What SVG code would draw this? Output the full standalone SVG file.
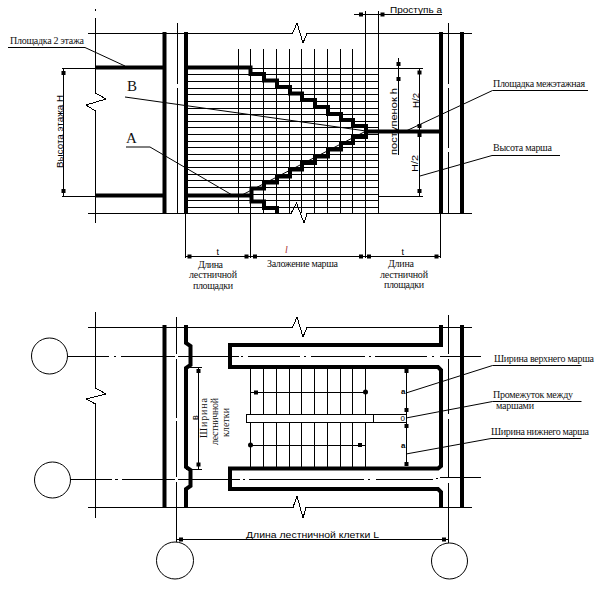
<svg xmlns="http://www.w3.org/2000/svg" width="602" height="593" viewBox="0 0 602 593">
<style>
.l{fill:none;stroke:#000;stroke-width:1;shape-rendering:crispEdges}
.s{fill:none;stroke:#000;stroke-width:1}
.w{fill:none;stroke:#000;stroke-width:4;stroke-linejoin:miter}
.d{fill:#000}
.r{font-family:"Liberation Serif","Times New Roman",serif;font-size:10px;fill:#111}
.g{font-family:"Liberation Sans",Arial,sans-serif;font-size:9px;fill:#000}
.b{font-family:"Liberation Serif","Times New Roman",serif;font-size:15px;fill:#111}
</style>
<defs><rect id="t" x="-2" y="-2" width="4" height="4" class="d"/></defs>
<rect width="602" height="593" fill="#fff"/>
<g id="section">
<path class="l" d="M87.500 33.500H292.500L297 23L303 43L307 33.500H471.500M88 213.500H291L296.500 203L304 223L307 213.500H471.500M95.500 18V93L106 99L86 105L95.500 111V223M95.500 9V11"/>
<path class="l" d="M177.500 23V84M177.500 88V214M448.500 23V84M448.500 88V148M448.500 152V214"/>
<path class="l" d="M188 68.500H378.500M188 74.500H378.500M188 81.500H378.500M188 88.500H378.500M188 94.500H378.500M188 101.500H378.500M188 108.500H378.500M188 114.500H378.500M188 121.500H378.500M188 127.500H378.500M188 134.500H378.500M188 141.500H378.500M188 147.500H378.500M188 154.500H378.500M188 160.500H378.500M188 167.500H378.500M188 174.500H378.500M188 180.500H378.500M188 187.500H378.500M188 194.500H378.500M188 200.500H378.500M188 207.500H378.500"/>
<path class="l" d="M238.500 49V213M250.500 49V258M263.500 49V213M276.500 49V213M289.500 49V213M301.500 49V213M314.500 49V213M327.500 49V213M340.500 49V213M352.500 49V213M365.500 11V258M378.500 11V213"/>
<path class="w" d="M164.500 32V214M186 32V214M441 32V214M462 32V214"/>
<path class="w" d="M96 67.500H164M188 67.500H250.500V74H264V80.500H277V87H290V93.500H302V100H315V107H328V114H341V120H353V126H366V137H353V143H341V149.500H328V156.500H315V163H302V169.500H290V176.500H277V182.500H264V188.500H251.500V201.500H264V208H277V214M96 195.500H164M188 195.500H251.500M366 131.500H441"/>
<path class="s" d="M125 97L366 131M126 147H150L233 195.500H241L366 131M8 47.500H85L125 66M492.500 90.500H588M492.500 90.500L406 131M492 155.500H560M492 155.500L420 176"/>
</g>
<g id="section-dimensions">
<path class="l" d="M354 14.500H442M379 68.500H423M379 196.500H423M419.500 68V197M398.500 58V155M185.500 213V258M440.500 213V258M185 256.500H440.500"/>
<use href="#t" x="361" y="14.500"/><use href="#t" x="382.500" y="14.500"/>
<use href="#t" x="398.500" y="64"/><use href="#t" x="398.500" y="79"/>
<use href="#t" x="419.500" y="72.500"/><use href="#t" x="419.500" y="126"/><use href="#t" x="419.500" y="135"/><use href="#t" x="419.500" y="191"/>
<use href="#t" x="189.500" y="256.500"/><use href="#t" x="246.500" y="256.500"/><use href="#t" x="255" y="256.500"/><use href="#t" x="361" y="256.500"/><use href="#t" x="369" y="256.500"/><use href="#t" x="436.500" y="256.500"/>
</g>
<g id="section-labels">
<text class="r" x="10" y="44" textLength="74" lengthAdjust="spacing">Площадка 2 этажа</text>
<text class="b" x="127" y="91">B</text>
<text class="b" x="126" y="143">A</text>
<text class="g" x="390" y="13" textLength="52" lengthAdjust="spacingAndGlyphs">Проступь  a</text>
<text class="r" x="493" y="87" textLength="92" lengthAdjust="spacing">Площадка межэтажная</text>
<text class="r" x="493" y="151" textLength="59" lengthAdjust="spacing">Высота марша</text>
<text class="g" transform="translate(397 155) rotate(-90)" textLength="67" lengthAdjust="spacingAndGlyphs">поступенок h</text>
<text class="g" transform="translate(418.500 108) rotate(-90)" textLength="15" lengthAdjust="spacingAndGlyphs">H/2</text>
<text class="g" transform="translate(418 172) rotate(-90)" textLength="17" lengthAdjust="spacingAndGlyphs">H/2</text>
<text class="g" transform="translate(62.500 168) rotate(-90)" textLength="73" lengthAdjust="spacingAndGlyphs">Высота этажа H</text>
<text class="g" x="216.500" y="255">t</text>
<text class="r" x="285" y="253" font-style="italic" style="fill:#a33">l</text>
<text class="g" x="401.500" y="255">t</text>
<text class="r" x="198" y="268" textLength="25" lengthAdjust="spacing">Длина</text>
<text class="r" x="189" y="278" textLength="48" lengthAdjust="spacing">лестничной</text>
<text class="r" x="193" y="289" textLength="40" lengthAdjust="spacing">площадки</text>
<text class="r" x="267" y="267" textLength="71" lengthAdjust="spacing">Заложение марша</text>
<text class="r" x="388" y="267" textLength="26" lengthAdjust="spacing">Длина</text>
<text class="r" x="380" y="278" textLength="48" lengthAdjust="spacing">лестничной</text>
<text class="r" x="384" y="288" textLength="40" lengthAdjust="spacing">площадки</text>
</g>
<g id="plan">
<path class="l" d="M87.500 327.500H292.500L297 317L303 337L307 327.500H471.500M88 507.500H293L297 496L303 518L306 507.500H471.500M95.500 312V388L106 394L86 399L95.500 404V518"/>
<path class="l" d="M176.500 317V354M176.500 359V418M176.500 421V477M176.500 482V542M448.500 315V354M448.500 359V414M448.500 419V478M448.500 483V543"/>
<path class="l" d="M68 356.500H109M114 356.500H116M121 356.500H175M178 356.500H239M241 356.500H243M248 356.500H300M304 356.500H306M311 356.500H365M369 356.500H371M375 356.500H427M432 356.500H434M440 356.500H481"/>
<path class="l" d="M70 479.500H112M115 479.500H118M122 479.500H175M178 479.500H240M243 479.500H245M249 479.500H364M368 479.500H370M376 479.500H433M436 478.500H438M440 477.500H481"/>
<path class="l" d="M250.500 368V414M263.500 368V414M276.500 368V414M289.500 368V414M301.500 368V414M314.500 368V414M327.500 368V414M340.500 368V414M352.500 368V414M365.500 368V414M250.500 422V468M263.500 422V468M276.500 422V468M289.500 422V468M301.500 422V468M314.500 422V468M327.500 422V468M340.500 422V468M352.500 422V468M365.500 422V468M250.500 392.500H365.500M250.500 445.500H365.500"/>
<rect class="l" x="246.500" y="414.500" width="160" height="8"/>
<path class="l" d="M373.500 414V422"/>
<path class="w" d="M164.500 325V508M186 325V343L190.500 346V365L186 368V467L190.500 470V486L186 489V508M462 325V508M441 325V345H230V367H438L441 370V466L438 468.500H230V489H438L441 492V508"/>
<g id="plan-leaders"><path class="s" d="M406 393L492.500 365.500M492.500 365.500H581.500M406 418L492.500 401.500M492.500 401.500H581.500M406 454L491 438.500M491 438.500H581.500"/></g>
</g>
<g id="plan-dimensions">
<path class="l" d="M186 367.500H202M186 469.500H202M198.500 367V469M406.500 371V464M176.500 539.500H448"/>
<use href="#t" x="198.500" y="371"/><use href="#t" x="198.500" y="464.500"/>
<use href="#t" x="406.500" y="371"/><use href="#t" x="406.500" y="410"/><use href="#t" x="406.500" y="426"/><use href="#t" x="406.500" y="464"/>
<use href="#t" x="256" y="392.500"/><circle class="d" cx="365.500" cy="392" r="2.500"/><circle class="d" cx="250.500" cy="445" r="2.500"/><use href="#t" x="360" y="445"/>
<use href="#t" x="181" y="539.500"/><use href="#t" x="444" y="539.500"/>
</g>
<g id="plan-labels">
<text class="g" transform="translate(198 420) rotate(-90)">в</text>
<text class="r" transform="translate(207 438) rotate(-90)" textLength="40" lengthAdjust="spacing">Ширина</text>
<text class="r" transform="translate(218 445) rotate(-90)" textLength="47" lengthAdjust="spacing">лестничной</text>
<text class="r" transform="translate(228.500 437) rotate(-90)" textLength="29" lengthAdjust="spacing">клетки</text>
<text class="g" x="401" y="393.500" style="font-size:8px;font-weight:bold">a</text>
<text class="g" x="401" y="447.500" style="font-size:8px;font-weight:bold">a</text>
<text class="g" x="400.500" y="421" style="font-size:8px">0</text>
<text class="g" x="246" y="538" textLength="133" lengthAdjust="spacingAndGlyphs">Длина лестничной клетки L</text>
<text class="r" x="494" y="362" textLength="100" lengthAdjust="spacing">Ширина верхнего марша</text>
<text class="r" x="493" y="398" textLength="80" lengthAdjust="spacing">Промежуток между</text>
<text class="r" x="496" y="409" textLength="38" lengthAdjust="spacing">маршами</text>
<text class="r" x="491" y="435" textLength="98" lengthAdjust="spacing">Ширина нижнего марша</text>
</g>
<g id="axis-1"><circle class="s" cx="49.500" cy="356" r="18"/></g>
<g id="axis-2"><circle class="s" cx="52.500" cy="480" r="18"/></g>
<g id="axis-3"><circle class="s" cx="175" cy="560.500" r="18.500"/></g>
<g id="axis-4"><circle class="s" cx="449.500" cy="561" r="18"/></g>
<g id="height-dimension">
<path class="l" d="M62 68.500H96M62 196.500H96M63.500 68V197"/>
<use href="#t" x="63.500" y="73"/><use href="#t" x="63.500" y="191"/>
</g>
</svg>
